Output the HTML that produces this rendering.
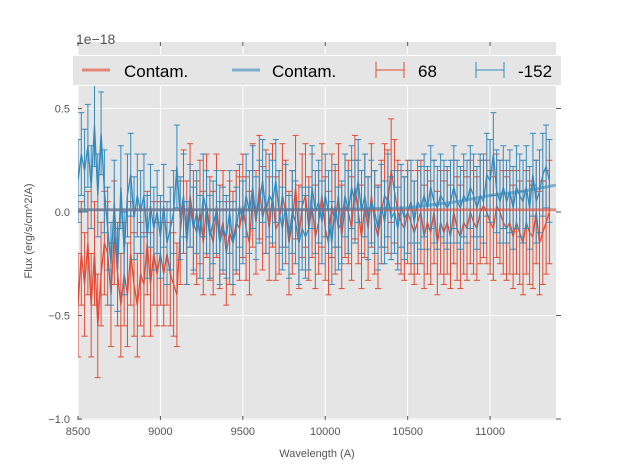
<!DOCTYPE html>
<html><head><meta charset="utf-8"><style>
body{margin:0;background:#fff;}
svg{display:block;font-family:"Liberation Sans",sans-serif;}
</style></head><body>
<svg id="chart" width="617" height="467"></svg>
<script>
const wlStart = 8500, wlStep = 20;
const redFlux = [-0.45,-0.2,-0.35,-0.15,-0.45,-0.2,-0.55,-0.3,-0.15,-0.2,
-0.4,-0.1,-0.3,-0.45,-0.3,-0.4,-0.2,-0.35,-0.45,-0.3,
-0.35,-0.15,-0.35,-0.2,-0.3,-0.2,-0.3,-0.2,-0.3,-0.35,
-0.4,-0.1,0.05,-0.1,0.08,-0.05,-0.1,0.0,-0.15,0.03,
-0.08,-0.15,0.03,-0.12,-0.05,-0.2,-0.1,-0.15,-0.05,-0.08,
0.03,-0.08,-0.15,0.08,-0.05,0.12,-0.03,0.05,-0.08,0.08,
-0.08,-0.05,0.08,0.0,-0.15,-0.05,0.12,-0.12,0.03,0.08,
-0.08,0.03,-0.12,-0.05,0.08,-0.08,-0.15,0.03,-0.05,0.08,
-0.12,0.03,0.0,-0.08,0.12,0.0,-0.12,0.03,-0.08,0.08,
-0.05,-0.12,0.0,0.08,0.05,0.2,0.1,0.0,-0.05,-0.08,
0.0,-0.05,-0.1,-0.05,0.0,-0.12,-0.05,-0.1,0.0,-0.15,
-0.05,-0.1,-0.05,-0.12,0.0,-0.08,-0.12,-0.05,-0.08,0.0,
-0.05,-0.08,0.0,0.03,0.0,-0.05,-0.08,0.03,0.0,-0.05,
-0.08,-0.05,-0.12,-0.05,-0.1,-0.15,-0.05,-0.1,-0.12,0.0,
-0.15,-0.1,-0.05,0.0];
const blueFlux = [0.15,0.28,0.2,0.32,0.12,0.42,0.08,0.38,0.1,-0.08,
-0.25,0.05,-0.28,0.12,-0.2,0.08,0.18,-0.03,0.08,0.0,
0.08,-0.12,0.03,-0.08,0.0,-0.12,0.03,-0.15,-0.08,0.0,
0.22,-0.03,0.08,-0.15,0.03,-0.08,0.0,-0.12,0.08,0.0,
-0.12,-0.05,0.0,-0.15,-0.08,-0.12,0.0,-0.15,-0.08,0.03,
-0.05,0.08,0.0,0.12,-0.03,0.05,0.15,0.0,0.08,0.05,
0.15,0.0,-0.08,0.03,-0.12,0.0,-0.05,-0.15,-0.08,-0.12,
-0.08,0.12,0.0,0.05,-0.05,0.08,0.0,-0.15,0.03,-0.08,
-0.05,0.08,0.0,0.12,0.05,0.15,0.0,0.08,-0.03,0.05,
0.0,-0.08,0.03,-0.05,0.08,-0.03,0.0,-0.08,0.03,-0.03,
0.0,0.05,-0.05,0.05,0.02,0.08,0.02,0.12,0.05,0.02,
0.08,0.05,0.02,0.05,0.12,0.05,0.02,0.08,0.05,0.12,
0.08,0.02,0.08,0.05,0.18,0.15,0.28,0.1,0.05,0.12,
0.05,0.1,0.02,0.12,0.08,0.05,0.12,0.02,0.18,0.05,
0.1,0.18,0.22,0.15];
const redErr = 0.25, blueErr = 0.2;
const contamWl = [8500,9000,9500,10000,10500,10800,11000,11200,11400];
const redContam = [0.01,0.01,0.01,0.01,0.01,0.01,0.01,0.01,0.01];
const blueContam = [0.01,0.01,0.01,0.012,0.02,0.05,0.08,0.1,0.13];
const xTicks = [8500,9000,9500,10000,10500,11000];
const yTicks = [-1.0,-0.5,0.0,0.5];
const yTickLabels = ["\u22121.0","\u22120.5","0.0","0.5"];

const NS="http://www.w3.org/2000/svg";
const svg=document.getElementById('chart');
const L=78,R=556,T=42,B=420;
const X=v=>L+(v-8500)*(R-L)/(11400-8500);
const Y=v=>212-v*207;
function mk(tag,at,parent){const e=document.createElementNS(NS,tag);for(const k in at)e.setAttribute(k,at[k]);(parent||svg).appendChild(e);return e;}

const bg=mk('rect',{x:L,y:T,width:R-L,height:B-T,fill:'#e5e5e5'});


const clip=mk('clipPath',{id:'cp'});mk('rect',{x:L,y:T,width:R-L,height:B-T},clip);

const grid=mk('g',{});


xTicks.forEach(t=>{mk('line',{x1:X(t),x2:X(t),y1:T,y2:B,stroke:'#fff','stroke-width':1},grid);});
yTicks.forEach(t=>{mk('line',{x1:L,x2:R,y1:Y(t),y2:Y(t),stroke:'#fff','stroke-width':1},grid);});

const plot=mk('g',{'clip-path':'url(#cp)'});
function series(vals,err,color,name){
  const g=mk('g',{},plot);
  
  
  let d='';
  vals.forEach((v,i)=>{const x=X(wlStart+i*wlStep);
    mk('line',{x1:x,x2:x,y1:Y(v-err),y2:Y(v+err),stroke:color,'stroke-width':1},g);
    mk('line',{x1:x-3,x2:x+3,y1:Y(v-err),y2:Y(v-err),stroke:color,'stroke-width':1},g);
    mk('line',{x1:x-3,x2:x+3,y1:Y(v+err),y2:Y(v+err),stroke:color,'stroke-width':1},g);
    d+=(i?'L':'M')+x.toFixed(1)+','+Y(v).toFixed(1);});
  mk('path',{d:d,fill:'none',stroke:color,'stroke-width':1.3},g);
}
series(redFlux,redErr,'#E24A33','series-68');
series(blueFlux,blueErr,'#348ABD','series-152');
function contam(vals,color,name){
  const p=mk('path',{d:vals.map((v,i)=>(i?'L':'M')+X(contamWl[i])+','+Y(v)).join(''),fill:'none',stroke:color,'stroke-width':3,opacity:0.6},plot);
  
  
}
contam(redContam,'#E24A33','contam-68');
contam(blueContam,'#348ABD','contam-152');

const ax=mk('g',{fill:'#555','font-size':'11'});


xTicks.forEach(t=>{
  mk('line',{x1:X(t),x2:X(t),y1:B,y2:B-4,stroke:'#555'},ax);
  mk('line',{x1:X(t),x2:X(t),y1:T,y2:T+4,stroke:'#555'},ax);
  const tx=mk('text',{x:X(t),y:B+15,'text-anchor':'middle'},ax);tx.textContent=t;});
yTicks.forEach((t,i)=>{
  mk('line',{x1:L,x2:L+4,y1:Y(t),y2:Y(t),stroke:'#555'},ax);
  mk('line',{x1:R,x2:R+5,y1:Y(t),y2:Y(t),stroke:'#555'},ax);
  const tx=mk('text',{x:L-8,y:Y(t)+4,'text-anchor':'end'},ax);tx.textContent=yTickLabels[i];});
</script>
<div style="position:absolute;left:0;top:0;width:617px;height:467px;pointer-events:none;">
<svg width="617" height="467" style="position:absolute;left:0;top:0;font-family:'Liberation Sans',sans-serif;">
<text x="76" y="44" font-size="14" fill="#555">1e−18</text>
<text x="317" y="457" font-size="11" fill="#555" text-anchor="middle">Wavelength (A)</text>
<text x="32" y="231" font-size="11" fill="#555" text-anchor="middle" transform="rotate(-90 32 231)">Flux (erg/s/cm^2/A)</text>
<g>
<rect x="72.5" y="55.5" width="489" height="30" fill="#e5e5e5" stroke="#fff"/>
<g><line x1="82" x2="110" y1="70" y2="70" stroke="#E24A33" stroke-width="3" opacity="0.6"/><text x="124" y="77" font-size="17">Contam.</text></g>
<g><line x1="232" x2="260" y1="70" y2="70" stroke="#348ABD" stroke-width="3" opacity="0.6"/><text x="272" y="77" font-size="17">Contam.</text></g>
<g stroke="#E24A33"><line x1="376" x2="404" y1="70" y2="70"/><line x1="376" x2="376" y1="62" y2="78"/><line x1="404" x2="404" y1="62" y2="78"/><text x="418" y="77" font-size="17" stroke="none">68</text></g>
<g stroke="#348ABD"><line x1="476" x2="504" y1="70" y2="70"/><line x1="476" x2="476" y1="62" y2="78"/><line x1="504" x2="504" y1="62" y2="78"/><text x="518" y="77" font-size="17" stroke="none">-152</text></g>
</g>
</svg></div>
</body></html>
